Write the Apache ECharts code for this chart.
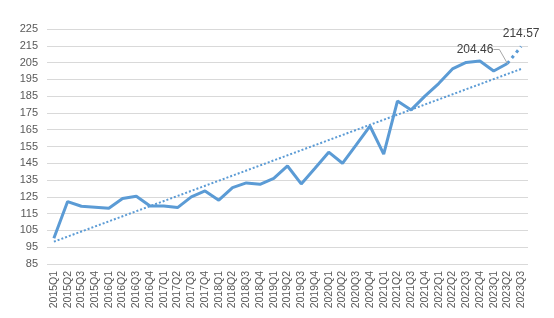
<!DOCTYPE html>
<html><head><meta charset="utf-8">
<script src="https://cdn.jsdelivr.net/npm/echarts@6/dist/echarts.min.js"></script>
<style>html,body{margin:0;padding:0;background:#fff}#c{width:554px;height:318px}</style>
</head><body><div id="c"></div>
<script>
const categories = ['2015Q1','2015Q2','2015Q3','2015Q4','2016Q1','2016Q2','2016Q3','2016Q4',
'2017Q1','2017Q2','2017Q3','2017Q4','2018Q1','2018Q2','2018Q3','2018Q4',
'2019Q1','2019Q2','2019Q3','2019Q4','2020Q1','2020Q2','2020Q3','2020Q4',
'2021Q1','2021Q2','2021Q3','2021Q4','2022Q1','2022Q2','2022Q3','2022Q4',
'2023Q1','2023Q2','2023Q3'];
const actual = [100.3,122.2,119.4,118.8,118.2,124.0,125.3,119.6,
119.6,118.6,125.0,128.5,123.0,130.5,133.3,132.5,
136.0,143.4,132.7,142.0,151.6,145.0,156.0,167.2,
150.5,182.1,176.8,185.0,192.5,201.2,205.1,205.9,
200.0,204.46,null];
const forecastFrom = '2023Q2', forecastFromValue = 204.46;
const forecastTo = '2023Q3', forecastToValue = 214.57;
const trendStart = 98.3, trendEnd = 201.2;
const yTicks = {min:85, max:225, step:10};

const color = '#5B9BD5';
const chart = echarts.init(document.getElementById('c'));
const lastIdx = categories.indexOf(forecastFrom);
const lblFont = {fontSize:12,color:'#404040',fontFamily:'Liberation Sans, sans-serif'};
chart.setOption({
  animation:false,
  grid:{left:47,right:26,top:29,bottom:54},
  xAxis:{type:'category',data:categories,boundaryGap:true,
    axisLine:{show:false},axisTick:{show:false},
    axisLabel:{rotate:90,fontSize:10.5,color:'#595959',fontFamily:'Liberation Sans, sans-serif',margin:7,interval:0}},
  yAxis:{type:'value',min:yTicks.min,max:yTicks.max,interval:yTicks.step,
    axisLine:{show:false},axisTick:{show:false},
    splitLine:{lineStyle:{color:'#D9D9D9',width:1}},
    axisLabel:{fontSize:11,color:'#595959',fontFamily:'Liberation Sans, sans-serif',margin:9}},
  series:[
    {type:'line',data:[[categories[0],trendStart],[categories[categories.length-1],trendEnd]],
     showSymbol:false,lineStyle:{color:color,width:2,type:[2,2]},z:1,silent:true},
    {type:'line',data:actual.map((v,i)=> i===lastIdx ? {value:v,label:{show:true}} : v),
     showSymbol:true,symbol:'circle',symbolSize:0.01,itemStyle:{color:color},
     lineStyle:{color:color,width:3},z:3,
     label:Object.assign({show:false,position:'left',distance:2,formatter:p=>p.value.toFixed(2)},lblFont),
     labelLine:{show:true,length2:6,lineStyle:{color:'#A6A6A6',width:1}},
     labelLayout:p=> p.dataIndex===lastIdx ? {dx:-12,dy:-14} : {}},
    {type:'line',data:categories.map(c=> c===forecastFrom?forecastFromValue:(c===forecastTo?{value:forecastToValue,label:{show:true}}:null)),
     showSymbol:true,symbol:'circle',symbolSize:0.01,itemStyle:{color:color},
     lineStyle:{color:color,width:3,type:[3,4]},z:2,
     label:Object.assign({show:false,position:'top',distance:7,formatter:p=>p.value.toFixed(2)},lblFont)}
  ]
});
</script></body></html>
